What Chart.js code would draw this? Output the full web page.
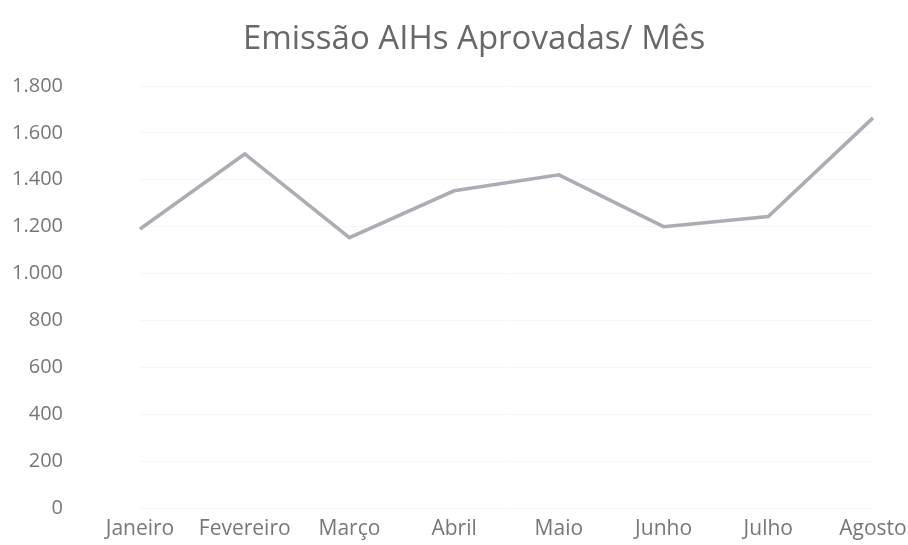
<!DOCTYPE html>
<html>
<head>
<meta charset="utf-8">
<script src="https://cdn.jsdelivr.net/npm/chart.js@4/dist/chart.umd.min.js"></script>
<style>
  body { margin: 0; background: #fff; }
</style>
</head>
<body>
<canvas id="chart" width="908" height="545"></canvas>
<script>
// dados
const titulo = "Emissão AIHs Aprovadas/ Mês";
const meses = ["Janeiro", "Fevereiro", "Março", "Abril", "Maio", "Junho", "Julho", "Agosto"];
const aihsAprovadas = [1190, 1510, 1153, 1353, 1421, 1200, 1243, 1664];
const yMax = 1800;
const yStep = 200;

// formato 1.800
function formatPt(v) {
  return String(v).replace(/\B(?=(\d{3})+(?!\d))/g, ".");
}

// título desenhado à mão para poder deslocá-lo um pouco à direita
const tituloPlugin = {
  id: "tituloPlugin",
  afterDraw(chart) {
    const c = chart.ctx;
    c.save();
    c.font = "33px 'Open Sans'";
    c.fillStyle = "#686868";
    c.textAlign = "center";
    c.textBaseline = "middle";
    c.fillText(titulo, 474, 40);
    c.restore();
  }
};

const ctx = document.getElementById("chart");
new Chart(ctx, {
  type: "line",
  data: {
    labels: meses,
    datasets: [{
      data: aihsAprovadas,
      borderColor: "#acacb4",
      borderWidth: 3.5,
      pointRadius: 0,
      tension: 0,
      fill: false
    }]
  },
  options: {
    responsive: false,
    maintainAspectRatio: false,
    animation: false,
    layout: { padding: { left: 0, right: 35, top: 86, bottom: 0 } },
    plugins: {
      legend: { display: false },
      tooltip: { enabled: false },
      title: { display: false }
    },
    scales: {
      x: {
        offset: false,
        afterFit: (axis) => { axis.height = 37; },
        grid: { display: false },
        border: { display: false },
        ticks: {
          color: "#777777",
          font: { family: "Open Sans", size: 21 },
          padding: 0,
          maxRotation: 0,
          autoSkip: false
        }
      },
      y: {
        min: 0,
        max: yMax,
        afterFit: (axis) => {
          // largura fixa; o padding grande dos ticks não deve empurrar a área
          axis.width = 140;
          axis.paddingTop = 0;
          axis.paddingBottom = 0;
        },
        grid: { color: "#f6f6f6", drawTicks: false },
        border: { display: false },
        ticks: {
          stepSize: yStep,
          color: "#777777",
          font: { family: "Open Sans", size: 20 },
          padding: 77,
          callback: (v) => formatPt(v)
        }
      }
    }
  },
  plugins: [tituloPlugin]
});
</script>
</body>
</html>
